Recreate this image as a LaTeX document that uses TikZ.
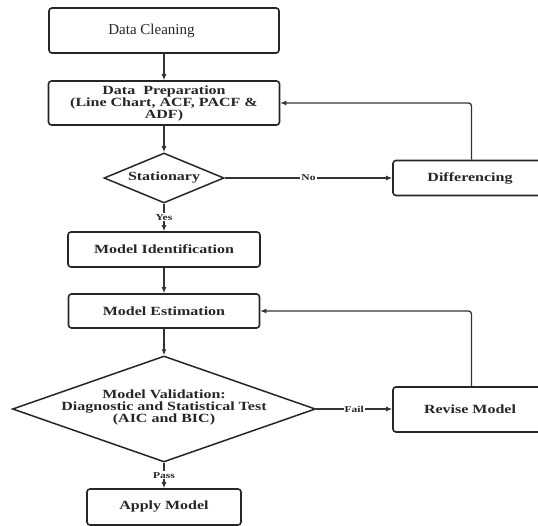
\documentclass[tikz,border=0pt]{standalone}
\usepackage{fontspec}
\setmainfont{Liberation Serif}
\newfontfamily\widefont{Liberation Serif}[FakeStretch=1.28]
\usetikzlibrary{shapes.geometric,arrows.meta}
\begin{document}
\begin{tikzpicture}[x=1pt,y=-1pt,
  txt/.style={font=\widefont\bfseries\fontsize{12.5}{12}\selectfont, text=black!85, align=center, inner sep=0pt},
  box/.style={draw=black!85, line width=1.6pt, rounded corners=3pt, inner sep=0pt, fill=white},
  dia/.style={diamond, draw=black!85, line width=1.5pt, inner sep=0pt, fill=white},
  conn/.style={draw=black!80, line width=1.3pt, -{Latex[length=6pt,width=5pt]}},
  lab/.style={font=\widefont\bfseries\fontsize{9}{9}\selectfont, text=black!85, fill=white, inner sep=1pt}
]
\useasboundingbox (0,0) rectangle (538,526);
\clip (0,0) rectangle (538,526);
\fill[white] (0,0) rectangle (538,526);

% nodes
\node[box, minimum width=230pt, minimum height=45pt] (dc) at (164,30.5) {};
\node[font=\fontsize{15}{15}\selectfont, text=black!85, inner sep=0pt] (dct) at (151.5,31) {Data Cleaning};

\node[box, minimum width=231pt, minimum height=44pt] (dp) at (164,103) {};
\node[txt] (dpt) at (164,103) {Data\ \ Preparation\\(Line Chart, ACF, PACF \&\\ADF)};

\node[dia, minimum width=120pt, minimum height=50pt] (stat) at (164,178) {};
\node[txt] (statt) at (164,178) {Stationary};

\node[box, minimum width=157pt, minimum height=35pt] (diff) at (471.5,178) {};
\node[txt] (difft) at (470,178) {Differencing};

\node[box, minimum width=192pt, minimum height=35pt] (mi) at (164,249.5) {};
\node[txt] (mit) at (164,249.5) {Model Identification};

\node[box, minimum width=191pt, minimum height=34pt] (me) at (164,311) {};
\node[txt] (met) at (164,311) {Model Estimation};

\node[dia, minimum width=303pt, minimum height=106pt] (mv) at (164,409) {};
\node[txt] (mvt) at (164,407) {Model Validation:\\Diagnostic and Statistical Test\\(AIC and BIC)};

\node[box, minimum width=157pt, minimum height=45pt] (rev) at (471.5,409.5) {};
\node[txt] (revt) at (470,409.5) {Revise Model};

\node[box, minimum width=154pt, minimum height=36pt] (am) at (164,507) {};
\node[txt] (amt) at (164,507) {Apply Model};

% connectors
\draw[conn] (dc) -- (dp);
\draw[conn] (dp) -- (stat);
\draw[conn] (stat) -- node[lab] {Yes} (mi);
\draw[conn] (stat) -- node[lab] {No} (diff);
\draw[conn, rounded corners=3pt] (diff.north) |- (dp.east);
\draw[conn] (mi) -- (me);
\draw[conn] (me) -- (mv);
\draw[conn] (mv) -- node[lab] {Fail} (rev.west |- mv.east);
\draw[conn] (mv) -- node[lab] {Pass} (am);
\draw[conn, rounded corners=3pt] (rev.north) |- (me.east);
\end{tikzpicture}
\end{document}
